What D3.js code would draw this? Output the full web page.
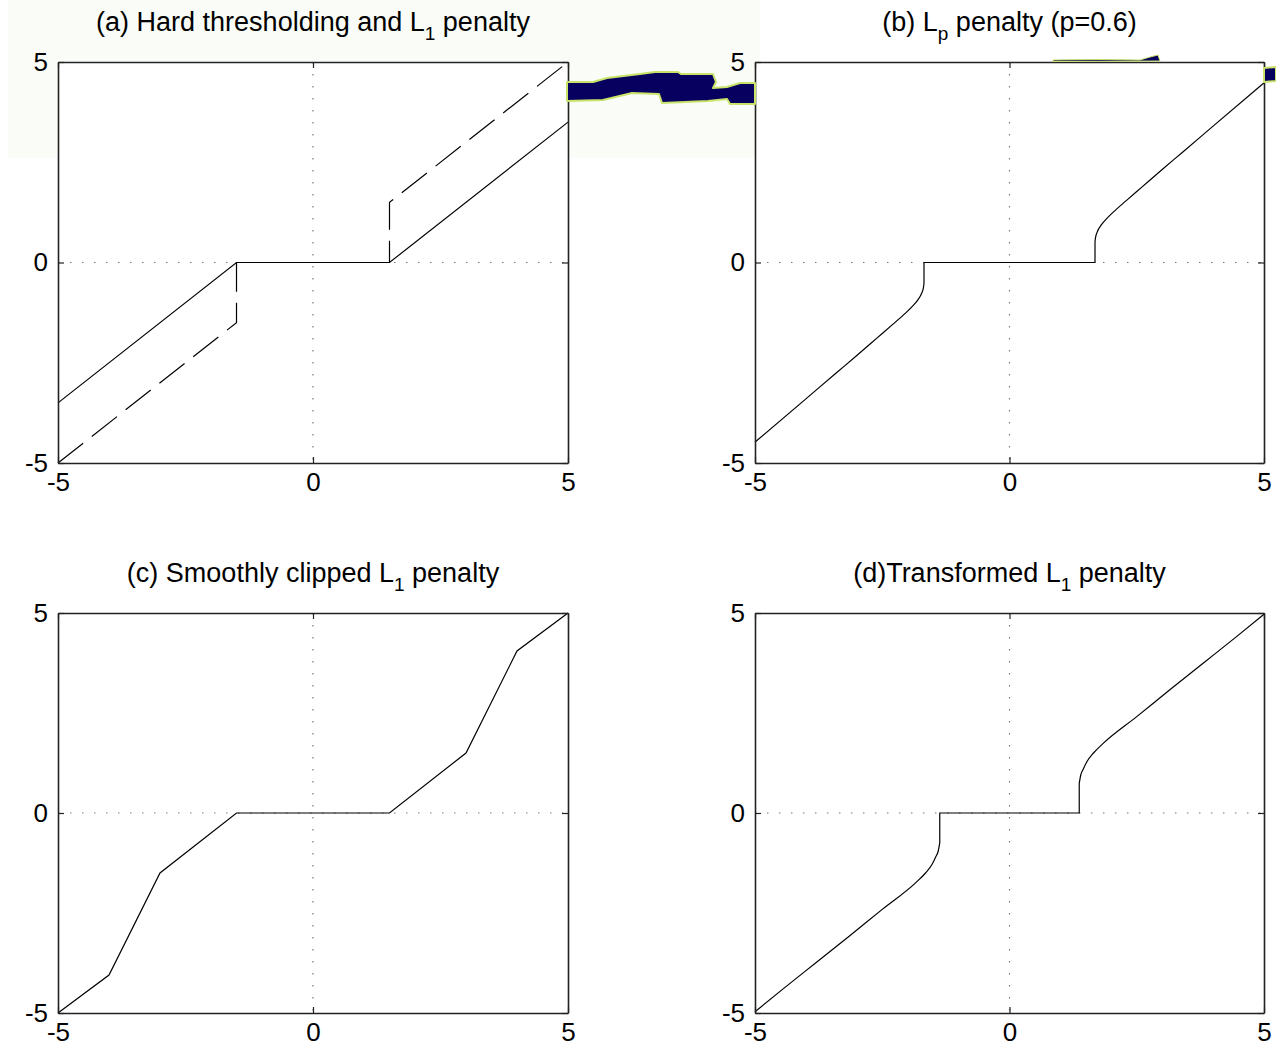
<!DOCTYPE html>
<html>
<head>
<meta charset="utf-8">
<script src="https://cdn.jsdelivr.net/npm/d3@7"></script>
<style>
html,body{margin:0;padding:0;background:#fff;}
svg{display:block;}
text{font-family:"Liberation Sans",Arial,Helvetica,sans-serif;fill:#000;}
</style>
</head>
<body>
<svg id="chart" width="1276" height="1052"></svg>
<script>
// ---------- data ----------
const xDomain = [-5, 5];
const yDomain = [-5, 5];
const tickValues = [-5, 0, 5];
const tickLabels = ["-5", "0", "5"];

// (a) soft thresholding (L1) - solid
const softX = [-5, -1.5, 1.5, 5];
const softY = [-3.5, 0, 0, 3.5];
// (a) hard thresholding - dashed
const hardX = [-5, -1.5, -1.5, 1.5, 1.5, 5];
const hardY = [-5, -1.5, 0, 0, 1.5, 5];

// (b) Lp penalty p=0.6
const lpX = [-5, -4, -3.4, -3, -2.6, -2.3, -2.05, -1.9, -1.8, -1.73, -1.69, -1.68, -1.68,
              1.68, 1.68, 1.69, 1.73, 1.8, 1.9, 2.05, 2.3, 2.6, 3, 3.4, 4, 5];
const lpY = [-4.48, -3.40, -2.75, -2.32, -1.88, -1.55, -1.27, -1.08, -0.93, -0.78, -0.62, -0.52, 0,
              0, 0.52, 0.62, 0.78, 0.93, 1.08, 1.27, 1.55, 1.88, 2.32, 2.75, 3.40, 4.48];

// (c) smoothly clipped (SCAD) L1 penalty
const scadX = [-5, -4, -3, -1.5, 1.5, 3, 4, 5];
const scadY = [-5, -4.05, -1.5, 0, 0, 1.5, 4.05, 5];

// (d) transformed L1 penalty
const tlX = [-5, -4.46, -3.81, -3.15, -2.5, -1.84, -1.65, -1.52, -1.45, -1.4, -1.37, -1.37,
              1.37, 1.37, 1.4, 1.45, 1.52, 1.65, 1.84, 2.5, 3.15, 3.81, 4.46, 5];
const tlY = [-4.97, -4.41, -3.75, -3.08, -2.41, -1.74, -1.5, -1.28, -1.1, -0.95, -0.74, 0,
              0, 0.74, 0.95, 1.1, 1.28, 1.5, 1.74, 2.41, 3.08, 3.75, 4.41, 4.97];

// scanning artifact (decorative, pixel coordinates)
const artifactShapes = [
  [[567,82],[593,82],[607,78],[640,74],[655,72],[678,72],[681,74],[713,74],[716,82],[713,88],[727,87],[740,83],[755,83],
   [755,104],[730,104],[727,99],[708,101],[662,103],[659,94],[632,93],[603,100],[567,101]],
  [[1264,68],[1276,67],[1276,81],[1264,82]],
  [[1053,60],[1100,59.5],[1140,60],[1150,57],[1158,55],[1160,61],[1053,61.5]]
];

// ---------- drawing ----------
const svg = d3.select("#chart");

// faint tinted band of the scan
svg.append("rect").attr("x", 8).attr("y", 0).attr("width", 752).attr("height", 158)
  .attr("fill", "#f9fcf7");

const panels = [
  {left: 58, top: 62, w: 510, h: 401, title: [["(a) Hard thresholding and L"], ["1", "sub"], [" penalty"]],
   series: [{x: softX, y: softY, dash: null, smooth: false}, {x: hardX, y: hardY, dash: "32,11", smooth: false}]},
  {left: 755, top: 62, w: 509, h: 401, title: [["(b) L"], ["p", "sub"], [" penalty (p=0.6)"]],
   series: [{x: lpX, y: lpY, dash: null, smooth: true}]},
  {left: 58, top: 613, w: 510, h: 400, title: [["(c) Smoothly clipped L"], ["1", "sub"], [" penalty"]],
   series: [{x: scadX, y: scadY, dash: null, smooth: false}]},
  {left: 755, top: 613, w: 509, h: 400, title: [["(d)Transformed L"], ["1", "sub"], [" penalty"]],
   series: [{x: tlX, y: tlY, dash: null, smooth: true}]}
];

panels.forEach(p => {
  const g = svg.append("g").attr("transform", `translate(${p.left},${p.top})`);
  const x = d3.scaleLinear().domain(xDomain).range([0, p.w]);
  const y = d3.scaleLinear().domain(yDomain).range([p.h, 0]);

  g.append("rect").attr("width", p.w).attr("height", p.h).attr("fill", "#fff");

  // dotted grid lines at interior ticks
  tickValues.filter(t => t > xDomain[0] && t < xDomain[1]).forEach(t => {
    g.append("line").attr("x1", x(t)).attr("x2", x(t)).attr("y1", 0).attr("y2", p.h)
      .attr("stroke", "#777").attr("stroke-width", 1.2).attr("stroke-dasharray", "1.5,10.5");
  });
  tickValues.filter(t => t > yDomain[0] && t < yDomain[1]).forEach(t => {
    g.append("line").attr("x1", 0).attr("x2", p.w).attr("y1", y(t)).attr("y2", y(t))
      .attr("stroke", "#777").attr("stroke-width", 1.2).attr("stroke-dasharray", "1.5,10.5");
  });

  // series
  p.series.forEach(s => {
    const pts = s.x.map((v, i) => [v, s.y[i]]);
    let d;
    if (!s.smooth) {
      d = d3.line().x(q => x(q[0])).y(q => y(q[1]))(pts);
    } else {
      // split into runs of strictly increasing x; join by vertical jumps
      const runs = [];
      let cur = [pts[0]];
      for (let i = 1; i < pts.length; i++) {
        if (pts[i][0] === pts[i - 1][0]) { runs.push(cur); cur = [pts[i]]; }
        else cur.push(pts[i]);
      }
      runs.push(cur);
      const lineM = d3.line().x(q => x(q[0])).y(q => y(q[1])).curve(d3.curveMonotoneX);
      d = runs.map((r, i) => {
        let seg = lineM(r);
        if (i > 0) seg = "L" + seg.slice(1);
        return seg;
      }).join("");
    }
    g.append("path").attr("d", d).attr("fill", "none")
      .attr("stroke", "#000").attr("stroke-width", 1.2)
      .attr("stroke-dasharray", s.dash);
  });

  // axes (box with inward ticks)
  const tl = 6;
  const axB = d3.axisBottom(x).tickValues(tickValues).tickFormat((d, i) => tickLabels[i]).tickSizeInner(-tl).tickSizeOuter(0).tickPadding(10);
  const axL = d3.axisLeft(y).tickValues(tickValues).tickFormat((d, i) => tickLabels[i]).tickSizeInner(-tl).tickSizeOuter(0).tickPadding(10);
  const axT = d3.axisTop(x).tickValues(tickValues).tickFormat("").tickSizeInner(-tl).tickSizeOuter(0);
  const axR = d3.axisRight(y).tickValues(tickValues).tickFormat("").tickSizeInner(-tl).tickSizeOuter(0);

  const styleAxis = sel => {
    sel.select(".domain").attr("stroke", "#222").attr("stroke-width", 1.6);
    sel.selectAll(".tick line").attr("stroke", "#222").attr("stroke-width", 1.2);
    sel.selectAll(".tick text").attr("font-size", 26).attr("fill", "#000")
      .attr("font-family", '"Liberation Sans",Arial,sans-serif');
  };
  g.append("g").attr("transform", `translate(0,${p.h})`).call(axB).call(styleAxis);
  g.append("g").call(axL).call(styleAxis);
  g.append("g").call(axT).call(styleAxis);
  g.append("g").attr("transform", `translate(${p.w},0)`).call(axR).call(styleAxis);

  // title with subscript
  const t = g.append("text").attr("x", p.w / 2).attr("y", -31)
    .attr("text-anchor", "middle").attr("font-size", 27);
  p.title.forEach((part, i) => {
    if (part[1] === "sub") {
      t.append("tspan").attr("font-size", 19).attr("dy", 9).text(part[0]);
    } else {
      const ts = t.append("tspan").text(part[0]);
      if (i > 0) ts.attr("dy", -9);
    }
  });
});

// artifact blob drawn over everything like in the scan
artifactShapes.forEach((poly, i) => {
  svg.append("path").attr("d", d3.line()(poly) + "Z")
    .attr("fill", "#07005e").attr("stroke", "#c9e36a").attr("stroke-width", i === 2 ? 1 : 2)
    .attr("stroke-linejoin", "round");
});
</script>
</body>
</html>
